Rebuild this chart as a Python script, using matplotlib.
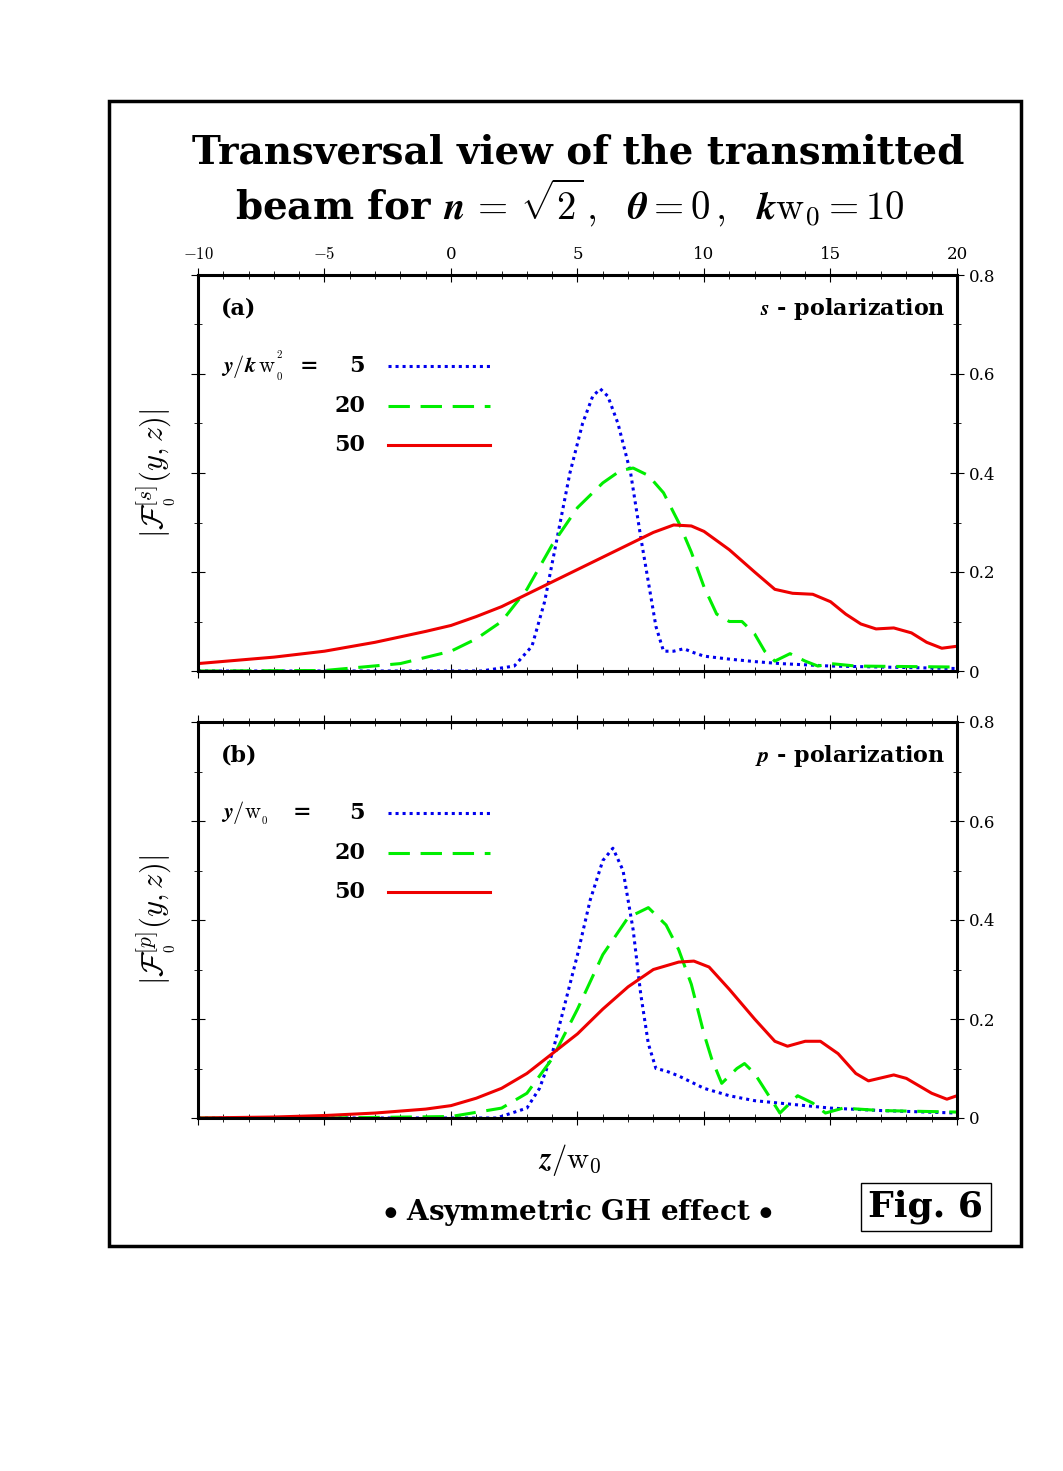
import matplotlib
matplotlib.use("Agg")
import matplotlib.pyplot as plt
from matplotlib.patches import Rectangle
from matplotlib.ticker import MultipleLocator

plt.rcParams['mathtext.fontset'] = 'cm'
plt.rcParams['font.family'] = 'DejaVu Serif'

# panel (a) s-polarization
za_blue = [-10, 0, 1.2, 2.5, 3.2, 3.7, 4.2, 4.7, 5.2, 5.6, 5.9, 6.2, 6.6, 7.1, 7.5, 7.8, 8.1, 8.4, 8.8, 9.2, 9.6, 10, 11, 12, 13, 15, 17, 20]
ya_blue = [0, 0, 0, 0.01, 0.05, 0.14, 0.27, 0.40, 0.50, 0.555, 0.57, 0.555, 0.50, 0.40, 0.27, 0.18, 0.09, 0.04, 0.04, 0.045, 0.037, 0.03, 0.024, 0.019, 0.015, 0.01, 0.008, 0.005]
za_green = [-10, -5, -2, 0, 1, 2, 3, 4, 5, 6, 6.7, 7.2, 7.8, 8.4, 9, 9.5, 10, 10.5, 11, 11.5, 12, 12.4, 12.8, 13.4, 14, 14.5, 15, 16, 18, 20]
ya_green = [0, 0.001, 0.015, 0.04, 0.065, 0.1, 0.165, 0.255, 0.33, 0.38, 0.405, 0.41, 0.395, 0.36, 0.3, 0.24, 0.17, 0.115, 0.1, 0.1, 0.075, 0.04, 0.02, 0.035, 0.02, 0.01, 0.015, 0.01, 0.009, 0.008]
za_red = [-10, -7, -5, -3, -1, 0, 1, 2, 3, 4, 5, 6, 7, 8, 8.8, 9.5, 10, 11, 12, 12.8, 13.5, 14.3, 15, 15.6, 16.2, 16.8, 17.5, 18.2, 18.8, 19.4, 20]
ya_red = [0.015, 0.028, 0.04, 0.058, 0.08, 0.092, 0.11, 0.13, 0.155, 0.18, 0.205, 0.23, 0.255, 0.28, 0.295, 0.293, 0.282, 0.245, 0.2, 0.165, 0.157, 0.155, 0.14, 0.115, 0.095, 0.085, 0.087, 0.077, 0.058, 0.046, 0.05]

# panel (b) p-polarization
zb_blue = [-10, 0, 1.8, 3, 3.5, 4, 4.5, 5, 5.5, 6, 6.4, 6.8, 7.2, 7.5, 7.8, 8.1, 8.5, 9, 10, 11, 12, 13, 15, 17, 20]
yb_blue = [0, 0, 0, 0.02, 0.06, 0.13, 0.23, 0.33, 0.44, 0.52, 0.545, 0.5, 0.38, 0.25, 0.15, 0.1, 0.095, 0.085, 0.06, 0.045, 0.035, 0.03, 0.02, 0.015, 0.01]
zb_green = [-10, -5, 0, 2, 3, 4, 5, 6, 7, 7.8, 8.5, 9, 9.5, 10, 10.3, 10.7, 11.3, 11.6, 12, 12.5, 13, 13.7, 14.3, 14.8, 15.5, 17, 20]
yb_green = [0, 0, 0.003, 0.02, 0.05, 0.12, 0.22, 0.33, 0.405, 0.425, 0.39, 0.34, 0.27, 0.17, 0.12, 0.07, 0.1, 0.11, 0.09, 0.05, 0.01, 0.045, 0.03, 0.01, 0.02, 0.015, 0.012]
zb_red = [-10, -7, -5, -3, -1, 0, 1, 2, 3, 4, 5, 6, 7, 8, 9, 9.6, 10.2, 11, 12, 12.8, 13.3, 14, 14.6, 15.3, 16, 16.5, 17.5, 18, 19, 19.6, 20]
yb_red = [0, 0.002, 0.005, 0.01, 0.018, 0.025, 0.04, 0.06, 0.09, 0.13, 0.17, 0.22, 0.265, 0.3, 0.315, 0.317, 0.305, 0.26, 0.2, 0.155, 0.145, 0.155, 0.155, 0.13, 0.09, 0.075, 0.087, 0.08, 0.05, 0.038, 0.045]

labels = ['5', '20', '50']

fig = plt.figure(figsize=(10.63, 14.71), dpi=100)
W, H = 1063, 1471
fig.patches.append(Rectangle((109/W, 1-1246/H), 912/W, 1145/H, transform=fig.transFigure,
                             fill=False, lw=2.5, ec='black'))
fig.text(578/W, 1-153/H, 'Transversal view of the transmitted', ha='center', va='center',
         fontsize=28, fontweight='bold')
fig.text(570/W, 1-203/H, r'beam for $\boldsymbol{n\, =\, \sqrt{2}\,,\ \ \theta = 0\,,\ \ k\mathrm{w}_0 = 10}$',
         ha='center', va='center', fontsize=28, fontweight='bold')

def mkax(top, blue, green, red, tag, pol, lab0):
    ax = fig.add_axes([198/W, 1-(top+396)/H, 759/W, 396/H])
    ax.plot(*blue, color='#0000ee', ls=(0, (1, 1.3)), lw=2.2)
    ax.plot(*green, color='#00ee00', ls=(0, (7, 3.5)), lw=2.2)
    ax.plot(*red, color='#ee0000', lw=2.2)
    ax.set_xlim(-10, 20); ax.set_ylim(0, 0.8)
    for s in ax.spines.values(): s.set_linewidth(2.2)
    ax.xaxis.set_major_locator(MultipleLocator(5)); ax.xaxis.set_minor_locator(MultipleLocator(1))
    ax.yaxis.set_major_locator(MultipleLocator(0.2)); ax.yaxis.set_minor_locator(MultipleLocator(0.1))
    ax.tick_params(which='both', direction='inout', top=True, right=True, labelleft=False,
                   labelbottom=False, labelright=True, labelsize=12)
    ax.tick_params(which='major', length=10); ax.tick_params(which='minor', length=6)
    ax.set_yticks([0, 0.2, 0.4, 0.6, 0.8]); ax.set_yticklabels(['0', '0.2', '0.4', '0.6', '0.8'])
    ax.text(0.03, 0.9, tag, transform=ax.transAxes, fontsize=16, fontweight='bold')
    ax.text(0.985, 0.9, pol, transform=ax.transAxes, fontsize=16, fontweight='bold', ha='right')
    ax.text(0.03, 0.77, lab0, transform=ax.transAxes, fontsize=16, fontweight='bold', va='center')
    for i, l in enumerate(labels):
        yy = 0.77 - 0.1*i
        ax.text(0.22, yy, l, transform=ax.transAxes, fontsize=16, fontweight='bold', ha='right', va='center')
    for i, (c, ls) in enumerate([('#0000ee', (0, (1, 1.3))), ('#00ee00', (0, (7, 3.5))), ('#ee0000', '-')]):
        yy = 0.77 - 0.1*i
        ax.plot([0.25, 0.385], [yy, yy], transform=ax.transAxes, color=c, ls=ls, lw=2.2)
    return ax

ax1 = mkax(275, (za_blue, ya_blue), (za_green, ya_green), (za_red, ya_red), '(a)',
           r'$\boldsymbol{s}$ - polarization', r'$\boldsymbol{y/k\,\mathrm{w}_{_0}^{^2}}$  =')
ax1.tick_params(labeltop=True)
ax1.set_xticks([-10, -5, 0, 5, 10, 15, 20])
ax1.set_xticklabels([r'$-10$', r'$-5$', '0', '5', '10', '15', '20'])
ax1.set_ylabel(r'$|\mathcal{F}_{_0}^{[s]}(y,z)|$', fontsize=22, labelpad=10)
ax2 = mkax(722, (zb_blue, yb_blue), (zb_green, yb_green), (zb_red, yb_red), '(b)',
           r'$\boldsymbol{p}$ - polarization', r'$\boldsymbol{y/\mathrm{w}_{_0}}$   =')
ax2.set_ylabel(r'$|\mathcal{F}_{_0}^{[p]}(y,z)|$', fontsize=22, labelpad=10)

fig.text(570/W, 1-1160/H, r'$\boldsymbol{z/\mathrm{w}_0}$', ha='center', va='center', fontsize=22)
fig.text(578/W, 1-1212/H, r'$\bullet$ Asymmetric GH effect $\bullet$', ha='center', va='center',
         fontsize=20, fontweight='bold')
fig.text(926/W, 1-1207/H, 'Fig. 6', ha='center', va='center', fontsize=26, fontweight='bold',
         bbox=dict(boxstyle='square,pad=0.2', fc='white', ec='black', lw=1))
fig.savefig('out.png', dpi=100)
